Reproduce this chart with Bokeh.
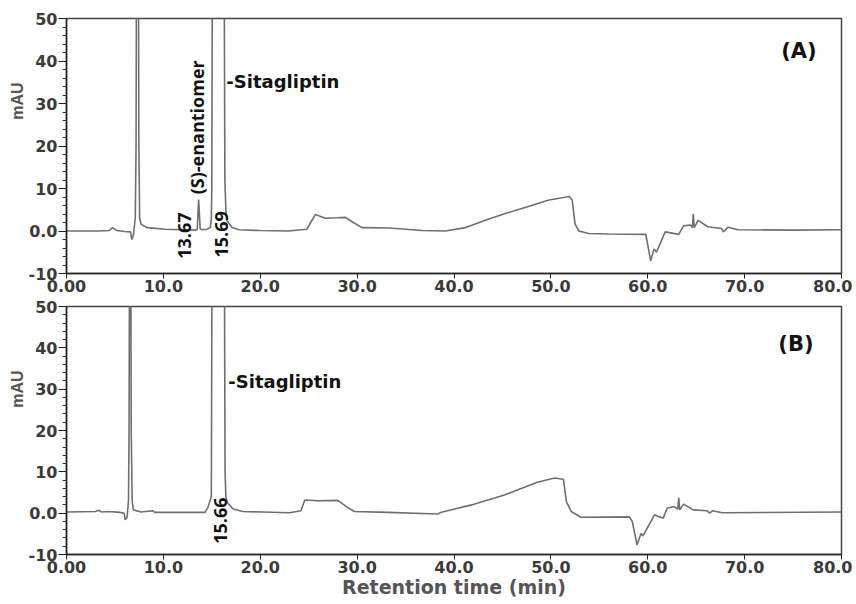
import math
from bokeh.plotting import figure
from bokeh.models import Range1d, FixedTicker, Label, Title
from bokeh.layouts import column
from bokeh.embed import file_html
from bokeh.resources import INLINE

# ---------------- data (retention time in min, signal in mAU) ----------------
time_a = [0.0, 3.3, 4.4, 4.75, 5.2, 6.0, 6.6, 6.75, 6.9, 7.1, 7.18, 7.22, 7.33, 7.43, 7.47,
          7.55, 7.7, 8.3, 10.2, 13.3, 13.5, 13.64, 13.8, 14.0, 14.5, 14.85, 14.95, 15.0, 15.05,
          15.65, 16.28, 16.35, 16.45, 16.56, 17.1, 17.8, 20.0, 22.9, 24.8, 25.2, 25.7, 26.7,
          28.0, 28.8, 29.6, 30.5, 33.3, 36.7, 39.1, 41.2, 43.6, 45.3, 47.0, 49.8, 51.9, 52.2,
          52.5, 52.9, 53.9, 56.0, 59.8, 60.3, 60.65, 60.9, 61.8, 63.2, 63.7, 64.4, 64.6, 64.7,
          64.8, 65.2, 66.2, 67.6, 67.8, 68.3, 69.3, 75.0, 80.0]
mau_a = [0.0, 0.0, 0.1, 0.8, 0.1, -0.1, -0.2, -2.0, -1.0, 3.0, 20.0, 60.0, 250.0, 60.0, 20.0,
         3.0, 1.6, 0.8, 0.4, 0.2, 0.4, 7.4, 0.5, 0.3, 0.4, 0.8, 3.0, 10.0, 60.0,
         500.0, 60.0, 12.0, 5.0, 2.4, 0.8, 0.3, 0.1, 0.0, 0.4, 2.0, 3.9, 3.0,
         3.1, 3.2, 2.0, 0.8, 0.7, 0.1, 0.0, 0.8, 2.8, 4.1, 5.3, 7.3, 8.1, 7.3,
         1.6, 0.0, -0.6, -0.7, -0.8, -7.0, -4.2, -5.0, -0.2, -0.8, 1.2, 1.4, 0.8, 4.0,
         0.8, 2.5, 1.0, 0.6, -0.2, 0.9, 0.3, 0.2, 0.3]

time_b = [0.0, 3.0, 3.3, 3.6, 4.3, 5.5, 5.95, 6.05, 6.25, 6.4, 6.46, 6.5, 6.57, 6.64, 6.68,
          6.78, 6.9, 7.7, 8.9, 9.1, 12.0, 14.3, 14.6, 14.95, 15.02, 15.65, 16.3, 16.37, 16.45,
          16.6, 17.2, 18.2, 23.0, 24.2, 24.6, 25.9, 28.0, 28.9, 29.7, 33.2, 38.3, 38.7, 41.8,
          45.2, 48.6, 50.4, 51.3, 51.6, 52.1, 53.1, 58.1, 58.4, 58.9, 59.3, 59.5, 60.7, 61.1,
          61.6, 62.0, 62.7, 63.1, 63.2, 63.3, 63.7, 64.7, 66.1, 66.4, 66.7, 67.7, 80.0]
mau_b = [0.3, 0.4, 0.7, 0.3, 0.4, 0.2, 0.0, -1.6, -1.0, 3.0, 20.0, 60.0, 250.0, 60.0, 20.0,
         3.0, 0.8, 0.3, 0.6, 0.2, 0.2, 0.2, 1.4, 4.0, 60.0, 500.0, 60.0, 10.0, 4.0,
         2.6, 1.0, 0.4, 0.1, 0.6, 3.2, 3.0, 3.1, 1.6, 0.4, 0.2, -0.2, 0.2, 2.0,
         4.4, 7.5, 8.5, 8.2, 2.8, 0.4, -1.0, -0.9, -2.0, -7.7, -4.9, -5.5, -0.4, -0.8,
         -1.2, 1.2, 1.6, 1.0, 3.8, 0.8, 2.2, 0.8, 0.6, 0.0, 0.6, 0.1, 0.3]

x_ticks = [0, 10, 20, 30, 40, 50, 60, 70, 80]
x_tick_labels = ["0.00", "10.0", "20.0", "30.0", "40.0", "50.0", "60.0", "70.0", "80.0"]
y_ticks = [-10, 0, 10, 20, 30, 40, 50]
y_tick_labels = ["-10", "0.0", "10", "20", "30", "40", "50"]
y_minor = [-8, -6, -4, -2, 2, 4, 6, 8, 12, 14, 16, 18, 22, 24, 26, 28, 32, 34, 36, 38, 42, 44, 46, 48]

TICK_FONT = "DejaVu Sans"
LINE_COLOR = "#6f6f6f"
TEXT_COLOR = "#111111"


def make_panel(t, v, height, border_top, ylab_offset, xlabel=None):
    p = figure(width=852, height=height, x_range=Range1d(0, 80), y_range=Range1d(-10, 50),
               output_backend="svg", toolbar_location=None,
               min_border_left=66, min_border_right=11, min_border_top=border_top,
               min_border_bottom=0)
    p.grid.visible = False
    p.outline_line_color = "#444444"
    p.outline_line_width = 1.5
    p.background_fill_color = "white"
    p.border_fill_color = "white"

    p.line(t, v, line_color=LINE_COLOR, line_width=1.6)

    xa = p.xaxis[0]
    xa.ticker = FixedTicker(ticks=x_ticks, minor_ticks=[])
    xa.major_label_overrides = {k: s for k, s in zip(x_ticks, x_tick_labels)}
    xa.major_tick_out = 5
    xa.major_tick_in = 0
    xa.minor_tick_out = 0
    xa.major_label_standoff = 1
    xa.axis_line_color = "#222222"
    xa.axis_line_width = 1.5
    xa.major_tick_line_color = "#222222"
    xa.major_label_text_font = TICK_FONT
    xa.major_label_text_font_style = "bold"
    xa.major_label_text_font_size = "16px"
    xa.major_label_text_color = "#3a3a3a"
    if xlabel:
        xa.axis_label = xlabel
        xa.axis_label_text_font = TICK_FONT
        xa.axis_label_text_font_style = "bold"
        xa.axis_label_text_font_size = "19px"
        xa.axis_label_text_color = "#555555"
        xa.axis_label_standoff = 0

    ya = p.yaxis[0]
    ya.ticker = FixedTicker(ticks=y_ticks, minor_ticks=y_minor)
    ya.major_label_overrides = {k: s for k, s in zip(y_ticks, y_tick_labels)}
    ya.major_tick_out = 8
    ya.major_tick_in = 0
    ya.minor_tick_out = 4
    ya.minor_tick_in = 0
    ya.major_label_standoff = 1
    ya.axis_line_color = "#222222"
    ya.axis_line_width = 1.5
    ya.major_tick_line_color = "#222222"
    ya.minor_tick_line_color = "#333333"
    ya.major_label_text_font = TICK_FONT
    ya.major_label_text_font_style = "bold"
    ya.major_label_text_font_size = "16px"
    ya.major_label_text_color = "#3a3a3a"

    p.add_layout(Title(text="mAU", align="right", offset=ylab_offset, standoff=0,
                       text_font="Liberation Sans", text_font_style="bold",
                       text_font_size="16px", text_color="#555555"), "left")
    return p


def add_text(p, x, y, text, size, font="Open Sans", style="bold", angle=0.0,
             align="left", baseline="middle", color=TEXT_COLOR):
    p.add_layout(Label(x=x, y=y, text=text, angle=angle, text_align=align,
                       text_baseline=baseline, text_font=font, text_font_style=style,
                       text_font_size=size, text_color=color))


# ---------------- panel A ----------------
pa = make_panel(time_a, mau_a, height=294, border_top=18, ylab_offset=64)
add_text(pa, 16.5, 35.1, "-Sitagliptin", "18px", font="DejaVu Sans")
add_text(pa, 13.48, 24.4, "(S)-enantiomer", "18px", angle=math.pi / 2, align="center")
add_text(pa, 12.2, -1.1, "13.67", "18px", angle=math.pi / 2, align="center")
add_text(pa, 15.96, -0.8, "15.69", "18px", angle=math.pi / 2, align="center")
add_text(pa, 75.6, 42.3, "(A)", "21px", font="DejaVu Sans", align="center")

# ---------------- panel B ----------------
pb = make_panel(time_b, mau_b, height=306, border_top=12, ylab_offset=64,
                xlabel="Retention time (min)")
add_text(pb, 16.7, 31.8, "-Sitagliptin", "18px", font="DejaVu Sans")
add_text(pb, 15.9, -1.8, "15.66", "18px", angle=math.pi / 2, align="center")
add_text(pb, 75.3, 40.9, "(B)", "21px", font="DejaVu Sans", align="center")

layout = column(pa, pb, spacing=0)
open("out.html", "w").write(file_html(layout, INLINE))
